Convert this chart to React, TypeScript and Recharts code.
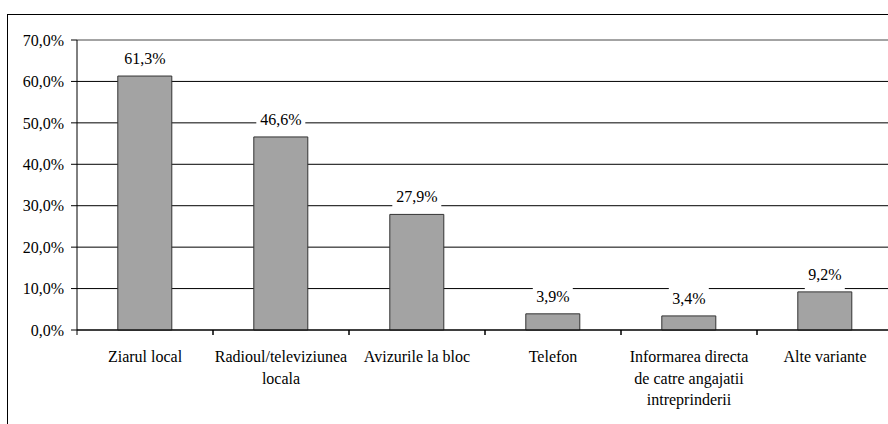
import { BarChart, Bar, XAxis, YAxis, CartesianGrid, ReferenceLine, LabelList } from "recharts";

// date
const categories = [
    "Ziarul local",
    "Radioul/televiziunea\nlocala",
    "Avizurile la bloc",
    "Telefon",
    "Informarea directa\nde catre angajatii\nintreprinderii",
    "Alte variante",
];
const values = [61.3, 46.6, 27.9, 3.9, 3.4, 9.2];
const yTicks = [0, 10, 20, 30, 40, 50, 60, 70];

const data = categories.map((name, i) => ({ name, value: values[i] }));

const FONT = "Liberation Serif, Tinos, Times New Roman, DejaVu Serif, serif";
const CHART_W = 900;
const CHART_H = 424;
const MARGIN = { top: 40, right: 7, bottom: 0, left: 0 };
const Y_W = 77;
const X_H = 94;
const BAND = (CHART_W - MARGIN.left - MARGIN.right - Y_W) / categories.length;

const fmt = (v: number) => v.toFixed(1).replace(".", ",") + "%";
const txt = { fontFamily: FONT, fontSize: 16 };

// eticheta categoriei + liniutele de la marginile benzii
function CategoryTick(props: any) {
    const { x, y, payload } = props;
    const lines = String(payload.value).split("\n");
    return (
        <g>
            <line x1={x - BAND / 2} x2={x - BAND / 2} y1={y} y2={y + 5} stroke="#000" />
            <line x1={x + BAND / 2} x2={x + BAND / 2} y1={y} y2={y + 5} stroke="#000" />
            <text x={x} y={y + 32} textAnchor="middle" style={txt} fill="#000">
                {lines.map((l, i) => (
                    <tspan key={i} x={x} dy={i === 0 ? 0 : 21.5}>
                        {l}
                    </tspan>
                ))}
            </text>
        </g>
    );
}

// eticheta valorii cu fundal alb
function ValueLabel(props: any) {
    const { x, y, width, value } = props;
    const cx = x + width / 2;
    const base = y - 12;
    const text = fmt(value);
    const w = text.length * 9 + 4;
    return (
        <g>
            <rect x={cx - w / 2} y={base - 17} width={w} height={27} fill="#fff" />
            <text x={cx} y={base} textAnchor="middle" style={txt} fill="#000">
                {text}
            </text>
        </g>
    );
}

export default function App() {
    return (
        <div style={{ position: "absolute", left: 0, top: 0, width: 888, height: 424, overflow: "hidden", background: "#fff", fontFamily: FONT }}>
            <div
                style={{
                    position: "absolute",
                    left: 7,
                    top: 14,
                    width: 1000,
                    height: 1000,
                    border: "1px solid #000",
                }}
            />
            <div style={{ position: "absolute", left: 0, top: 0 }}>
                <BarChart width={CHART_W} height={CHART_H} data={data} margin={MARGIN} barCategoryGap="30%" style={{ fontFamily: FONT }}>
                    <CartesianGrid vertical={false} stroke="#000" />
                    <ReferenceLine y={70} stroke="#c8c8c8" />
                    <XAxis
                        dataKey="name"
                        height={X_H}
                        interval={0}
                        tickLine={false}
                        tickSize={0}
                        tickMargin={0}
                        axisLine={{ stroke: "#000" }}
                        tick={<CategoryTick />}
                    />
                    <YAxis
                        width={Y_W}
                        domain={[0, 70]}
                        ticks={yTicks}
                        tickFormatter={fmt}
                        tickSize={6}
                        tickMargin={7}
                        axisLine={{ stroke: "#000" }}
                        tickLine={{ stroke: "#000" }}
                        tick={{ style: txt, fontFamily: FONT, fontSize: 16, fill: "#000" }}
                    />
                    <Bar dataKey="value" fill="#a3a3a3" stroke="#333" strokeWidth={1} isAnimationActive={false}>
                        <LabelList dataKey="value" content={<ValueLabel />} />
                    </Bar>
                </BarChart>
            </div>
        </div>
    );
}
